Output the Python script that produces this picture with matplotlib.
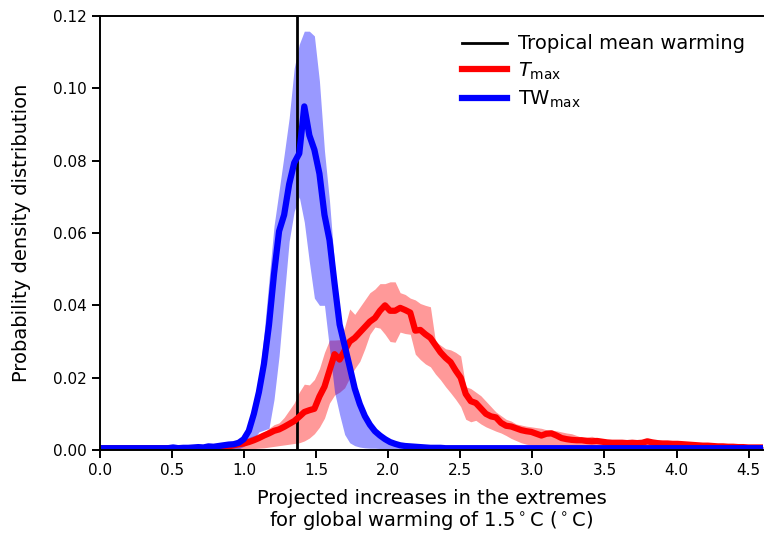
import numpy as np
import matplotlib
matplotlib.use('Agg')
from matplotlib import pyplot as plt

# bin centres (bins of width 0.035 degC)
bin_width = 0.035
x = np.round(0.0175 + bin_width * np.arange(132), 4)

tropical_mean = 1.368

# TWmax: mean pdf and model spread
tw_mean = [
    0.0005, 0.0005, 0.0005, 0.0005, 0.0005, 0.0005, 0.0005, 0.0005, 0.0005, 0.0005,
    0.0005, 0.0005, 0.0005, 0.0005, 0.0007, 0.0005, 0.0006, 0.0006, 0.0007, 0.0008,
    0.0007, 0.0010, 0.0009, 0.0011, 0.0013, 0.0015, 0.0016, 0.0020, 0.0030, 0.0053,
    0.0100, 0.0160, 0.0238, 0.0346, 0.0487, 0.0605, 0.0650, 0.0735, 0.0794, 0.0820,
    0.0950, 0.0870, 0.0830, 0.0764, 0.0650, 0.0580, 0.0460, 0.0347, 0.0289, 0.0230,
    0.0170, 0.0127, 0.0094, 0.0070, 0.0052, 0.0040, 0.0030, 0.0022, 0.0017, 0.0013,
    0.0011, 0.0010, 0.0009, 0.0008, 0.0007, 0.0006, 0.0006, 0.0006, 0.0005, 0.0005,
    0.0005, 0.0005, 0.0005, 0.0005, 0.0005, 0.0005, 0.0005, 0.0005, 0.0005, 0.0005,
    0.0005, 0.0005, 0.0005, 0.0005, 0.0005, 0.0005, 0.0005, 0.0005, 0.0005, 0.0005,
    0.0005, 0.0005, 0.0005, 0.0005, 0.0005, 0.0005, 0.0005, 0.0005, 0.0005, 0.0005,
    0.0005, 0.0005, 0.0005, 0.0005, 0.0005, 0.0005, 0.0005, 0.0005, 0.0005, 0.0005,
    0.0005, 0.0005, 0.0005, 0.0005, 0.0005, 0.0005, 0.0005, 0.0005, 0.0005, 0.0005,
    0.0005, 0.0005, 0.0005, 0.0005, 0.0005, 0.0005, 0.0005, 0.0005, 0.0005, 0.0005,
    0.0005, 0.0005,
]
tw_lo = [
    0.0003, 0.0003, 0.0003, 0.0003, 0.0003, 0.0003, 0.0003, 0.0003, 0.0003, 0.0003,
    0.0003, 0.0003, 0.0003, 0.0003, 0.0003, 0.0003, 0.0003, 0.0003, 0.0003, 0.0003,
    0.0003, 0.0003, 0.0003, 0.0003, 0.0003, 0.0003, 0.0003, 0.0003, 0.0010, 0.0020,
    0.0030, 0.0050, 0.0055, 0.0060, 0.0140, 0.0260, 0.0420, 0.0577, 0.0660, 0.0700,
    0.0630, 0.0520, 0.0420, 0.0400, 0.0400, 0.0280, 0.0160, 0.0098, 0.0043, 0.0020,
    0.0012, 0.0008, 0.0006, 0.0005, 0.0005, 0.0004, 0.0004, 0.0004, 0.0003, 0.0003,
    0.0003, 0.0003, 0.0003, 0.0003, 0.0003, 0.0003, 0.0003, 0.0003, 0.0003, 0.0003,
    0.0003, 0.0003, 0.0003, 0.0003, 0.0003, 0.0003, 0.0003, 0.0003, 0.0003, 0.0003,
    0.0003, 0.0003, 0.0003, 0.0003, 0.0003, 0.0003, 0.0003, 0.0003, 0.0003, 0.0003,
    0.0003, 0.0003, 0.0003, 0.0003, 0.0003, 0.0003, 0.0003, 0.0003, 0.0003, 0.0003,
    0.0003, 0.0003, 0.0003, 0.0003, 0.0003, 0.0003, 0.0003, 0.0003, 0.0003, 0.0003,
    0.0003, 0.0003, 0.0003, 0.0003, 0.0003, 0.0003, 0.0003, 0.0003, 0.0003, 0.0003,
    0.0003, 0.0003, 0.0003, 0.0003, 0.0003, 0.0003, 0.0003, 0.0003, 0.0003, 0.0003,
    0.0003, 0.0003,
]
tw_hi = [
    0.0008, 0.0008, 0.0008, 0.0008, 0.0008, 0.0008, 0.0008, 0.0008, 0.0008, 0.0008,
    0.0008, 0.0008, 0.0008, 0.0008, 0.0008, 0.0008, 0.0008, 0.0008, 0.0008, 0.0008,
    0.0008, 0.0008, 0.0008, 0.0008, 0.0008, 0.0008, 0.0008, 0.0020, 0.0040, 0.0066,
    0.0116, 0.0190, 0.0320, 0.0470, 0.0620, 0.0717, 0.0816, 0.0918, 0.1056, 0.1122,
    0.1158, 0.1158, 0.1145, 0.1020, 0.0827, 0.0688, 0.0510, 0.0370, 0.0310, 0.0230,
    0.0166, 0.0116, 0.0083, 0.0058, 0.0045, 0.0045, 0.0040, 0.0028, 0.0020, 0.0015,
    0.0012, 0.0010, 0.0009, 0.0009, 0.0008, 0.0008, 0.0008, 0.0008, 0.0008, 0.0008,
    0.0008, 0.0008, 0.0008, 0.0008, 0.0008, 0.0008, 0.0008, 0.0008, 0.0008, 0.0008,
    0.0008, 0.0008, 0.0008, 0.0008, 0.0008, 0.0008, 0.0008, 0.0008, 0.0008, 0.0008,
    0.0008, 0.0008, 0.0008, 0.0008, 0.0008, 0.0008, 0.0008, 0.0008, 0.0008, 0.0008,
    0.0008, 0.0008, 0.0008, 0.0008, 0.0008, 0.0008, 0.0008, 0.0008, 0.0008, 0.0008,
    0.0008, 0.0008, 0.0008, 0.0008, 0.0008, 0.0008, 0.0008, 0.0008, 0.0008, 0.0008,
    0.0008, 0.0008, 0.0008, 0.0008, 0.0008, 0.0008, 0.0008, 0.0008, 0.0008, 0.0008,
    0.0008, 0.0008,
]

# Tmax: mean pdf and model spread
tmax_mean = [
    0.0005, 0.0005, 0.0005, 0.0005, 0.0005, 0.0005, 0.0005, 0.0005, 0.0005, 0.0005,
    0.0005, 0.0005, 0.0005, 0.0005, 0.0005, 0.0005, 0.0005, 0.0005, 0.0005, 0.0005,
    0.0005, 0.0005, 0.0006, 0.0006, 0.0008, 0.0010, 0.0013, 0.0016, 0.0018, 0.0022,
    0.0027, 0.0033, 0.0040, 0.0046, 0.0053, 0.0057, 0.0064, 0.0072, 0.0080, 0.0092,
    0.0105, 0.0110, 0.0114, 0.0148, 0.0175, 0.0220, 0.0265, 0.0250, 0.0275, 0.0300,
    0.0310, 0.0325, 0.0340, 0.0355, 0.0365, 0.0385, 0.0400, 0.0385, 0.0385, 0.0393,
    0.0387, 0.0380, 0.0330, 0.0332, 0.0320, 0.0310, 0.0290, 0.0270, 0.0255, 0.0243,
    0.0220, 0.0200, 0.0155, 0.0135, 0.0130, 0.0115, 0.0100, 0.0093, 0.0090, 0.0075,
    0.0067, 0.0065, 0.0060, 0.0055, 0.0052, 0.0050, 0.0045, 0.0040, 0.0045, 0.0046,
    0.0040, 0.0033, 0.0030, 0.0028, 0.0027, 0.0027, 0.0025, 0.0024, 0.0025, 0.0023,
    0.0021, 0.0020, 0.0020, 0.0020, 0.0019, 0.0020, 0.0019, 0.0020, 0.0024, 0.0021,
    0.0019, 0.0018, 0.0018, 0.0017, 0.0017, 0.0016, 0.0015, 0.0014, 0.0013, 0.0012,
    0.0012, 0.0011, 0.0010, 0.0010, 0.0009, 0.0009, 0.0008, 0.0008, 0.0007, 0.0007,
    0.0007, 0.0007,
]
tmax_lo = [
    0.0003, 0.0003, 0.0003, 0.0003, 0.0003, 0.0003, 0.0003, 0.0003, 0.0003, 0.0003,
    0.0003, 0.0003, 0.0003, 0.0003, 0.0003, 0.0003, 0.0003, 0.0003, 0.0003, 0.0003,
    0.0003, 0.0003, 0.0003, 0.0003, 0.0003, 0.0003, 0.0003, 0.0003, 0.0003, 0.0003,
    0.0004, 0.0005, 0.0006, 0.0008, 0.0010, 0.0012, 0.0014, 0.0016, 0.0018, 0.0020,
    0.0025, 0.0033, 0.0045, 0.0063, 0.0088, 0.0130, 0.0152, 0.0160, 0.0172, 0.0200,
    0.0225, 0.0245, 0.0280, 0.0320, 0.0340, 0.0337, 0.0320, 0.0300, 0.0298, 0.0326,
    0.0322, 0.0320, 0.0265, 0.0250, 0.0238, 0.0230, 0.0210, 0.0194, 0.0175, 0.0158,
    0.0140, 0.0120, 0.0085, 0.0078, 0.0082, 0.0072, 0.0064, 0.0058, 0.0052, 0.0047,
    0.0040, 0.0032, 0.0026, 0.0020, 0.0016, 0.0014, 0.0013, 0.0013, 0.0012, 0.0012,
    0.0012, 0.0011, 0.0011, 0.0010, 0.0010, 0.0010, 0.0010, 0.0010, 0.0009, 0.0009,
    0.0009, 0.0009, 0.0009, 0.0009, 0.0009, 0.0008, 0.0008, 0.0008, 0.0008, 0.0008,
    0.0008, 0.0008, 0.0008, 0.0007, 0.0007, 0.0007, 0.0007, 0.0007, 0.0007, 0.0007,
    0.0006, 0.0006, 0.0006, 0.0006, 0.0006, 0.0006, 0.0006, 0.0006, 0.0006, 0.0006,
    0.0006, 0.0006,
]
tmax_hi = [
    0.0008, 0.0008, 0.0008, 0.0008, 0.0008, 0.0008, 0.0008, 0.0008, 0.0008, 0.0008,
    0.0008, 0.0008, 0.0008, 0.0008, 0.0008, 0.0008, 0.0008, 0.0008, 0.0008, 0.0008,
    0.0008, 0.0008, 0.0008, 0.0010, 0.0012, 0.0015, 0.0020, 0.0025, 0.0030, 0.0035,
    0.0040, 0.0045, 0.0050, 0.0060, 0.0070, 0.0075, 0.0090, 0.0110, 0.0130, 0.0160,
    0.0182, 0.0180, 0.0195, 0.0225, 0.0270, 0.0304, 0.0304, 0.0305, 0.0340, 0.0390,
    0.0375, 0.0395, 0.0415, 0.0435, 0.0445, 0.0460, 0.0460, 0.0465, 0.0465, 0.0435,
    0.0430, 0.0420, 0.0415, 0.0405, 0.0400, 0.0396, 0.0300, 0.0290, 0.0280, 0.0277,
    0.0270, 0.0260, 0.0175, 0.0170, 0.0160, 0.0150, 0.0135, 0.0120, 0.0105, 0.0095,
    0.0085, 0.0080, 0.0072, 0.0069, 0.0066, 0.0064, 0.0062, 0.0060, 0.0056, 0.0055,
    0.0053, 0.0050, 0.0047, 0.0045, 0.0040, 0.0035, 0.0036, 0.0038, 0.0033, 0.0031,
    0.0028, 0.0025, 0.0024, 0.0023, 0.0023, 0.0022, 0.0023, 0.0022, 0.0025, 0.0023,
    0.0021, 0.0020, 0.0019, 0.0019, 0.0018, 0.0018, 0.0017, 0.0016, 0.0016, 0.0015,
    0.0015, 0.0014, 0.0013, 0.0013, 0.0012, 0.0012, 0.0011, 0.0011, 0.0010, 0.0010,
    0.0010, 0.0010,
]

plt.rcParams['axes.linewidth'] = 1.4
plt.rcParams['xtick.major.width'] = 1.4
plt.rcParams['ytick.major.width'] = 1.4
plt.rcParams['xtick.major.size'] = 6
plt.rcParams['ytick.major.size'] = 6

fig = plt.figure(figsize=(7.64, 5.38), dpi=100)
ax = fig.add_axes([100 / 764, 88 / 538, 663 / 764, 434 / 538])

ax.fill_between(x, tmax_lo, tmax_hi, color='red', alpha=0.4, lw=0)
ax.fill_between(x, tw_lo, tw_hi, color='blue', alpha=0.4, lw=0)
ax.axvline(tropical_mean, color='black', lw=2, label='Tropical mean warming')
ax.plot(x, tmax_mean, color='red', lw=4.5, label=r'$T_{\mathrm{max}}$')
ax.plot(x, tw_mean, color='blue', lw=4.5, label=r'TW$_{\mathrm{max}}$')

ax.set_xlim(0, 4.6)
ax.set_ylim(0, 0.12)
ax.set_xticks(np.arange(0, 4.51, 0.5))
ax.set_yticks(np.arange(0, 0.121, 0.02))
ax.xaxis.set_major_formatter(matplotlib.ticker.FormatStrFormatter('%.1f'))
ax.yaxis.set_major_formatter(matplotlib.ticker.FormatStrFormatter('%.2f'))
ax.tick_params(labelsize=11)
ax.spines['right'].set_visible(False)

ax.set_xlabel('Projected increases in the extremes\n'
              r'for global warming of 1.5$^\circ$C ($^\circ$C)',
              fontsize=14, linespacing=1.05, labelpad=8)
ax.set_ylabel('Probability density distribution', fontsize=14, labelpad=16)

ax.legend(loc='upper right', frameon=False, fontsize=14, handlelength=2.3,
          handletextpad=0.55, labelspacing=0.35, borderaxespad=0.55)

fig.savefig('out.png', dpi=100)
